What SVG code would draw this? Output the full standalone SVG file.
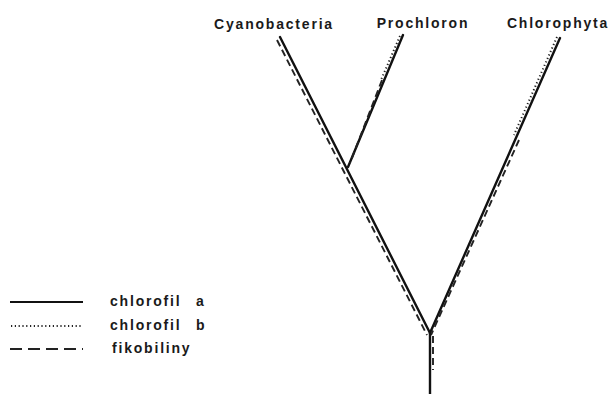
<svg xmlns="http://www.w3.org/2000/svg" width="611" height="394" viewBox="0 0 611 394">
<style>
.t{font-family:"Liberation Sans","DejaVu Sans",sans-serif;font-weight:bold;font-size:14px;fill:#1a1a1a;letter-spacing:1.8px}
.a{stroke:#111;stroke-width:2.4;fill:none;stroke-linecap:round}
.b{stroke:#222;stroke-width:2;fill:none;stroke-dasharray:1.2 2.6}
.c{stroke:#222;stroke-width:1.9;fill:none;stroke-dasharray:7 4}
</style>
<rect width="611" height="394" fill="#fff"/>
<g id="connectors">
<line class="a" x1="280" y1="37" x2="430" y2="333"/>
<line class="c" x1="277" y1="40" x2="427" y2="335"/>
<line class="a" x1="403" y1="35" x2="348" y2="167"/>
<line class="b" x1="400" y1="36" x2="381" y2="80"/>
<line class="c" x1="382" y1="80" x2="350" y2="163"/>
<line class="a" x1="560" y1="38" x2="430" y2="333"/>
<line class="b" x1="557" y1="37" x2="514" y2="135"/>
<line class="c" x1="519" y1="140" x2="431" y2="335"/>
<line class="a" x1="430" y1="333" x2="430" y2="394"/>
<line class="c" x1="433" y1="336" x2="433" y2="370"/>
</g>
<g id="node-cyanobacteria"><text class="t" x="274" y="29" text-anchor="middle">Cyanobacteria</text></g>
<g id="node-prochloron"><text class="t" x="423" y="28" text-anchor="middle">Prochloron</text></g>
<g id="node-chlorophyta"><text class="t" x="558" y="28" text-anchor="middle">Chlorophyta</text></g>
<g id="legend">
<line x1="10" y1="302" x2="83" y2="302" style="stroke:#111;stroke-width:1.9"/>
<line class="b" x1="11" y1="326" x2="83" y2="326" style="stroke-width:1.8"/>
<line x1="10" y1="349" x2="83" y2="349" style="stroke:#222;stroke-width:1.9;stroke-dasharray:12 6"/>
<text class="t" x="110" y="306">chlorofil</text>
<text class="t" x="196" y="306">a</text>
<text class="t" x="110" y="330">chlorofil</text>
<text class="t" x="196" y="330">b</text>
<text class="t" x="112" y="353">fikobiliny</text>
</g>
</svg>
